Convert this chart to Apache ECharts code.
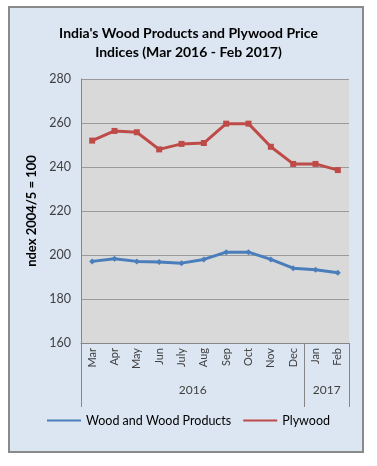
<!DOCTYPE html>
<html><head><meta charset="utf-8">
<script src="https://cdn.jsdelivr.net/npm/echarts@6/dist/echarts.min.js"></script>
<style>
html,body{margin:0;padding:0;background:#fff;}
#frame{position:absolute;left:8px;top:6px;width:352px;height:443px;border:2px solid #8a8a8a;background:#dce6f2;}
#c{position:absolute;left:0;top:0;width:377px;height:466px;}
</style></head>
<body><div id="frame"></div><div id="c"></div>
<script>
const months = ['Mar','Apr','May','Jun','July','Aug','Sep','Oct','Nov','Dec','Jan','Feb'];
const years = ['2016','2017'];
const woodValues = [197.1, 198.3, 197.1, 196.8, 196.3, 198.0, 201.3, 201.3, 198.0, 194.0, 193.3, 191.9];
const plywoodValues = [252.0, 256.4, 255.8, 248.0, 250.5, 250.9, 259.7, 259.7, 249.2, 241.4, 241.4, 238.6];
const yTicks = [160, 180, 200, 220, 240, 260, 280];

const font = 'Lato, "Open Sans", sans-serif';
const chart = echarts.init(document.getElementById('c'), null, {renderer:'canvas'});
chart.setOption({
  backgroundColor: 'transparent',
  textStyle: {fontFamily: font},
  title: {
    text: "India's Wood Products and Plywood Price\nIndices (Mar 2016 - Feb 2017)",
    left: 'center', top: 19,
    textStyle: {fontFamily: font, fontSize: 14, fontWeight: 'bold', color: '#000', lineHeight: 19}
  },
  legend: {
    bottom: 34, left: 'center', itemGap: 12, itemWidth: 34, itemHeight: 10,
    textStyle: {fontFamily: font, fontSize: 12.5, color: '#000'},
    data: [
      {name: 'Wood and Wood Products', icon: 'path://M0,4 L34,4 L34,6 L0,6 Z'},
      {name: 'Plywood', icon: 'path://M0,4 L34,4 L34,6 L0,6 Z'}
    ]
  },
  grid: {left: 81, right: 28, top: 79, bottom: 123, show: true, backgroundColor: '#d9d9d9', borderWidth: 0},
  xAxis: [
    {
      type: 'category', data: months, boundaryGap: true, position: 'bottom',
      axisLine: {show: true, lineStyle: {color: '#868686', width: 1}},
      axisTick: {show: false},
      axisLabel: {rotate: 90, fontSize: 11, color: '#404040', margin: 5, fontFamily: font}
    },
    {
      type: 'value', min: 0, max: 12, interval: 1, position: 'bottom',
      axisLine: {show: false},
      splitLine: {show: false},
      axisTick: {show: true, length: 64, customValues: [0, 10, 12], lineStyle: {color: '#868686'}},
      axisLabel: {
        customValues: [5, 11], margin: 41, fontSize: 12, color: '#404040', fontFamily: font,
        formatter: v => v === 5 ? years[0] : (v === 11 ? years[1] : '')
      }
    }
  ],
  yAxis: {
    type: 'value', min: yTicks[0], max: yTicks[yTicks.length-1], interval: 20,
    name: 'ndex 2004/5 = 100', nameLocation: 'middle', nameGap: 42,
    nameTextStyle: {fontFamily: font, fontSize: 13, fontWeight: 'bold', color: '#000'},
    axisLine: {show: true, lineStyle: {color: '#868686'}},
    axisTick: {show: false},
    axisLabel: {fontSize: 12.5, color: '#404040', margin: 10, fontFamily: font},
    splitLine: {show: true, lineStyle: {color: '#9a9a9a', width: 1}}
  },
  series: [
    {
      name: 'Wood and Wood Products', type: 'line', data: woodValues,
      symbol: 'diamond', symbolSize: 6,
      lineStyle: {color: '#4a7ebb', width: 3},
      itemStyle: {color: '#4a7ebb'}
    },
    {
      name: 'Plywood', type: 'line', data: plywoodValues,
      symbol: 'rect', symbolSize: 6,
      lineStyle: {color: '#be4b48', width: 3},
      itemStyle: {color: '#be4b48'}
    }
  ],
  animation: false
});
</script></body></html>
